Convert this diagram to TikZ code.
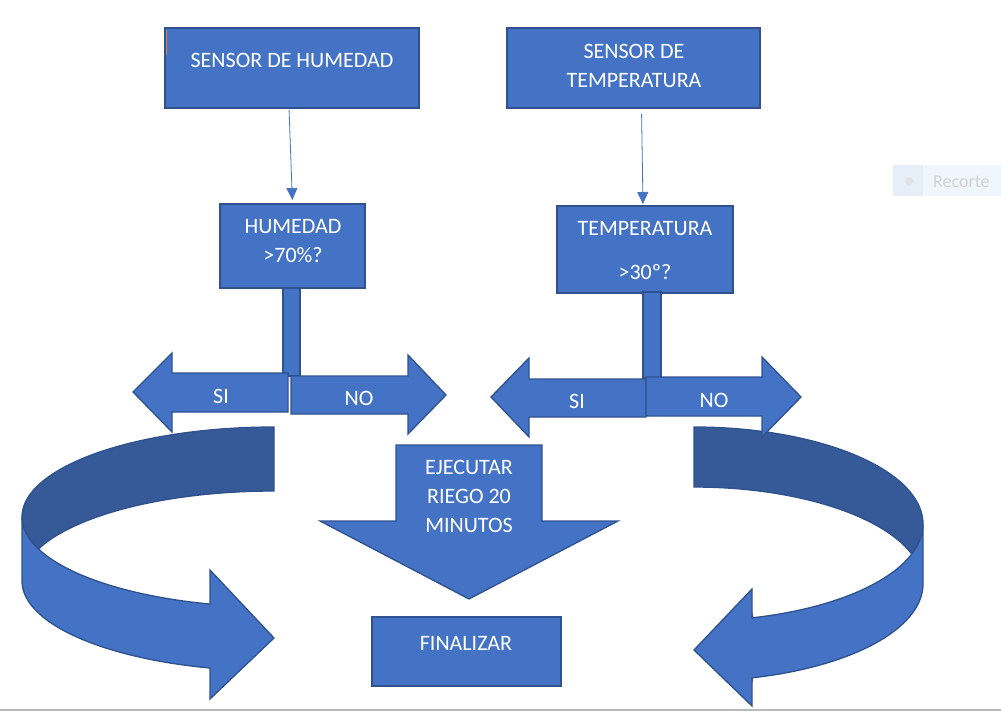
\documentclass[tikz,border=0pt]{standalone}
\usepackage{fontspec}
\setmainfont{Carlito}
\usetikzlibrary{arrows.meta}
\definecolor{boxblue}{HTML}{4472C4}
\definecolor{edgeblue}{HTML}{2F528F}
\definecolor{backblue}{HTML}{355A97}
\definecolor{recbg}{HTML}{EFF6FD}
\definecolor{recdot}{HTML}{E6EEF7}
\definecolor{markorange}{HTML}{ED7D31}

\begin{document}
\begin{tikzpicture}[x=1pt, y=-1pt,
  blk/.style={draw=edgeblue, fill=boxblue, line width=1.3pt},
  box/.style={blk, anchor=north west, inner sep=0pt, outer sep=0pt},
  txt/.style={text=white, font=\fontsize{22}{29}\selectfont, align=center, inner sep=0pt},
  conn/.style={draw=boxblue, line width=0.8pt, -{Triangle[length=12pt, width=11pt]}}]
\useasboundingbox (0,0) rectangle (1001,712);
\fill[recbg] (893,165) rectangle (1001,196);
\fill[recdot] (893,165) rectangle (923,196);
\fill[gray!22] (909,181) circle[radius=4pt];
\node[anchor=west, inner sep=0pt, text=gray!35, font=\fontsize{18}{20}\selectfont] (rec) at (933,182) {Recorte};
\draw[gray!55, line width=1.2pt] (0,710) -- (1001,710);
% ribbons
\draw[blk, fill=backblue] plot[domain=270:159.17, samples=60, variable=\t] ({274+252*cos(\t)}, {517+90*sin(\t)}) -- plot[domain=200.83:270, samples=50, variable=\t] ({274+252*cos(\t)}, {581+90*sin(\t)}) -- cycle;
\draw[blk] plot[domain=104.7:180, samples=50, variable=\t] ({274+252*cos(\t)}, {517+90*sin(\t)}) -- plot[domain=180:104.7, samples=50, variable=\t] ({274+252*cos(\t)}, {581+90*sin(\t)}) -- (210,699) -- (274,638) -- (210,570) -- cycle;
\draw[blk, fill=backblue] plot[domain=-90:18, samples=60, variable=\t] ({694+229*cos(\t)}, {524+97*sin(\t)}) -- plot[domain=-18:-90, samples=50, variable=\t] ({694+229*cos(\t)}, {584+97*sin(\t)}) -- cycle;
\draw[blk] plot[domain=75.3:0, samples=50, variable=\t] ({694+229*cos(\t)}, {524+97*sin(\t)}) -- plot[domain=0:75.3, samples=50, variable=\t] ({694+229*cos(\t)}, {584+97*sin(\t)}) -- (752,706) -- (694,650) -- (752,589) -- cycle;
% boxes
\node[box, minimum width=254pt, minimum height=80pt] (sh) at (165,28) {};
\draw[markorange] (166.5,30) -- (166.5,55);
\node[txt] (shtx) at (292,60) {SENSOR DE HUMEDAD};
\node[box, minimum width=253pt, minimum height=80pt] (st) at (507,28) {};
\node[txt] (sttx) at (634,65.5) {SENSOR DE\\TEMPERATURA};
\node[box, minimum width=145pt, minimum height=84pt] (h) at (220,204) {};
\node[txt] (htx) at (293,241.5) {HUMEDAD\\>70\%?};
\node[box, minimum width=176pt, minimum height=87pt] (t) at (557,206) {};
\node[txt] (ttx) at (645,251) {TEMPERATURA\\[15pt]>30º?};
\draw[conn, shorten <=2pt, shorten >=4pt] ([xshift=-3pt]sh.south) -- (h.north);
\draw[conn, shorten <=6pt, shorten >=2pt] ([xshift=8pt]st.south) -- ([xshift=-2pt]t.north);
% stems and block arrows
\draw[blk] (283,288) rectangle (300,376);
\draw[blk] (133,392) -- (172,353) -- (172,373) -- (288,373) -- (288,412) -- (172,412) -- (172,432) -- cycle;
\draw[blk] (291,376) -- (408,376) -- (408,355) -- (446,395) -- (408,434) -- (408,414) -- (291,414) -- cycle;
\node[txt] (si1) at (221,396) {SI};
\node[txt] (no1) at (359,398) {NO};
\draw[blk] (643,292) rectangle (661,378);
\draw[blk] (491,397) -- (529,358) -- (529,379) -- (646,379) -- (646,417) -- (529,417) -- (529,437) -- cycle;
\draw[blk] (646,377) -- (762,377) -- (762,357) -- (801,397) -- (762,437) -- (762,416) -- (646,416) -- cycle;
\node[txt] (si2) at (577,401) {SI};
\node[txt] (no2) at (714,400) {NO};
\draw[blk] (396,445) -- (542,445) -- (542,521) -- (618,521) -- (469,599) -- (320,521) -- (396,521) -- cycle;
\node[txt] (riego) at (469,496.5) {EJECUTAR\\RIEGO 20\\MINUTOS};
\node[box, minimum width=189pt, minimum height=69pt] (fin) at (372,617) {};
\node[txt] (fintx) at (466,643) {FINALIZAR};
\end{tikzpicture}
\end{document}
